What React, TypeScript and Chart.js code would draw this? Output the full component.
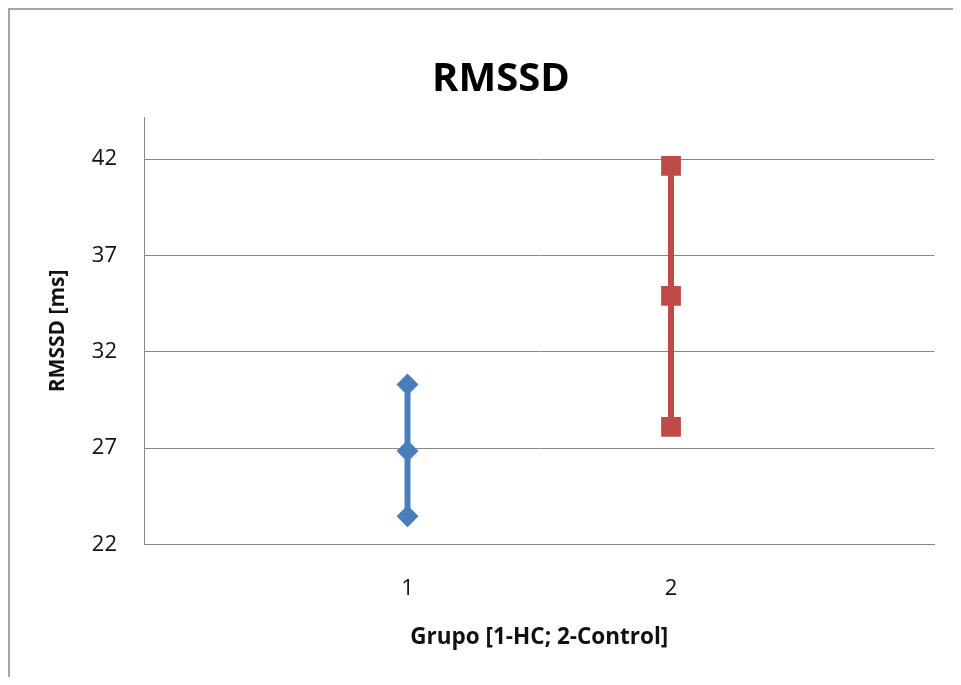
import React, { useEffect, useRef } from 'react';
import { Chart, registerables } from 'chart.js';

Chart.register(...registerables);

// ---- data ----
const groups = [1, 2];
const groupLabels = ['1', '2'];
const hcValues = [30.3, 26.85, 23.45];
const controlValues = [41.65, 34.9, 28.1];
const yTicks = [22, 27, 32, 37, 42];
const yMin = 22;
const yMax = 44.16;
const xMin = 0;
const xMax = 3;

const chartTitle = 'RMSSD';
const xTitle = 'Grupo [1-HC; 2-Control]';
const yTitle = 'RMSSD [ms]';
const hcName = 'HC';
const controlName = 'Control';

const W = 986;
const H = 700;
const FONT = "'Open Sans', sans-serif";
const GRID = '#868686';
const SIDE = W - 926.5;

const borderPlugin = {
  id: 'outerBorder',
  beforeDraw(chart: any) {
    const ctx = chart.ctx;
    ctx.save();
    ctx.fillStyle = '#ffffff';
    ctx.fillRect(0, 0, chart.width, chart.height);
    ctx.strokeStyle = '#a6a6a6';
    ctx.lineWidth = 2;
    ctx.strokeRect(1, 1, chart.width - 2, chart.height - 2);
    ctx.restore();
  },
};

export default function App() {
  const ref = useRef<HTMLCanvasElement | null>(null);

  useEffect(() => {
    if (!ref.current) return;
    const titleSize = 40;
    const titleLH = titleSize * 1.2;
    const titlePadTop = 72 - titleLH / 2;
    const titlePadBottom = 109.5 - titlePadTop - titleLH;
    const xTitleSize = 22.5;
    const xTitleLH = xTitleSize * 1.2;
    const yTitleSize = 21;
    const yTitleLH = yTitleSize * 1.2;
    const tickSize = 22;
    const tickLH = tickSize * 1.2;

    const chart = new Chart(ref.current, {
      type: 'line',
      data: {
        datasets: [
          {
            label: hcName,
            data: hcValues.map((v) => ({ x: groups[0], y: v })),
            borderColor: '#4A7EBB',
            backgroundColor: '#4A7EBB',
            borderWidth: 6,
            pointStyle: 'rectRot',
            pointRadius: 11,
            pointBorderWidth: 0,
            pointBackgroundColor: '#4A7EBB',
            tension: 0,
          },
          {
            label: controlName,
            data: controlValues.map((v) => ({ x: groups[1], y: v })),
            borderColor: '#BE4B48',
            backgroundColor: '#BE4B48',
            borderWidth: 6,
            pointStyle: 'rect',
            pointRadius: 14,
            pointBorderWidth: 0,
            pointBackgroundColor: '#BE4B48',
            tension: 0,
          },
        ],
      },
      options: {
        responsive: false,
        animation: false,
        layout: { padding: { left: SIDE, right: SIDE, top: 0, bottom: 0 } },
        plugins: {
          legend: { display: false },
          tooltip: { enabled: false },
          title: {
            display: true,
            text: chartTitle,
            color: '#000000',
            font: { family: FONT, size: titleSize, weight: 'bold', lineHeight: 1.2 },
            padding: { top: titlePadTop, bottom: titlePadBottom },
          },
        },
        scales: {
          x: {
            type: 'linear',
            min: xMin,
            max: xMax,
            afterBuildTicks: (scale: any) => {
              scale.ticks = groups.map((v) => ({ value: v }));
            },
            afterFit: (scale: any) => {
              scale.height = H - 536.3;
            },
            grid: { display: false, drawTicks: false },
            border: { display: true, color: GRID, width: 1 },
            ticks: {
              color: '#111111',
              font: { family: FONT, size: tickSize },
              padding: 581 - 536.3 - tickLH / 2,
              maxRotation: 0,
              autoSkip: false,
              callback: (v: any) => {
                const i = groups.indexOf(Number(v));
                return i >= 0 ? groupLabels[i] : '';
              },
            },
            title: {
              display: true,
              text: xTitle,
              color: '#111111',
              font: { family: FONT, size: xTitleSize, weight: 'bold', lineHeight: 1.2 },
              padding: { top: 0, bottom: H - 630 - xTitleLH / 2 },
            },
          },
          y: {
            type: 'linear',
            min: yMin,
            max: yMax,
            afterBuildTicks: (scale: any) => {
              scale.ticks = yTicks.map((v) => ({ value: v }));
            },
            afterFit: (scale: any) => {
              scale.width = 136 - SIDE;
            },
            grid: { color: GRID, lineWidth: 1, drawTicks: false },
            border: { display: true, color: GRID, width: 1 },
            ticks: {
              color: '#111111',
              font: { family: FONT, size: tickSize },
              padding: 27,
              autoSkip: false,
            },
            title: {
              display: true,
              text: yTitle,
              color: '#111111',
              font: { family: FONT, size: yTitleSize, weight: 'bold', lineHeight: 1.2 },
              padding: { top: 50.5 - yTitleLH / 2 - SIDE, bottom: 0 },
            },
          },
        },
      },
      plugins: [borderPlugin],
    });
    return () => chart.destroy();
  }, []);

  return (
    <div style={{ width: 953, height: 669, overflow: 'hidden', position: 'relative' }}>
      <canvas ref={ref} width={W} height={H} style={{ display: 'block', width: W, height: H }} />
    </div>
  );
}
